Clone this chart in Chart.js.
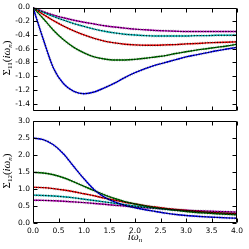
<!DOCTYPE html>
<html><head><meta charset="utf-8">
<script src="https://cdn.jsdelivr.net/npm/chart.js@4"></script>
<style>
html,body{margin:0;padding:0;background:#fff;width:249px;height:249px;overflow:hidden}
canvas{position:absolute;left:0}
#c1{top:0}
#c2{top:113px}
</style></head><body>
<canvas id="c1" width="249" height="118"></canvas>
<canvas id="c2" width="249" height="136"></canvas>
<script>
// ---- data ----
const omega = [0,0.2,0.4,0.6,0.8,1.0,1.2,1.4,1.6,1.8,2.0,2.2,2.4,2.6,2.8,3.0,3.2,3.4,3.6,3.8,4.0];
const s11Blue    = [0,-0.46,-0.88,-1.11,-1.22,-1.255,-1.23,-1.17,-1.10,-1.02,-0.95,-0.89,-0.84,-0.80,-0.76,-0.72,-0.69,-0.66,-0.63,-0.605,-0.58];
const s11Green   = [0,-0.16,-0.33,-0.47,-0.58,-0.66,-0.72,-0.75,-0.765,-0.765,-0.755,-0.74,-0.72,-0.70,-0.67,-0.645,-0.62,-0.60,-0.58,-0.56,-0.535];
const s11Red     = [0,-0.10,-0.19,-0.27,-0.34,-0.40,-0.45,-0.49,-0.515,-0.535,-0.545,-0.55,-0.55,-0.545,-0.54,-0.53,-0.525,-0.515,-0.51,-0.505,-0.50];
const s11Cyan    = [0,-0.07,-0.13,-0.185,-0.235,-0.275,-0.315,-0.345,-0.37,-0.39,-0.40,-0.41,-0.415,-0.415,-0.415,-0.415,-0.41,-0.41,-0.405,-0.405,-0.40];
const s11Magenta = [0,-0.06,-0.11,-0.15,-0.185,-0.215,-0.24,-0.265,-0.285,-0.30,-0.315,-0.325,-0.335,-0.34,-0.345,-0.35,-0.35,-0.35,-0.35,-0.35,-0.35];

const s12Blue    = [2.50,2.45,2.30,2.03,1.66,1.30,0.98,0.76,0.62,0.52,0.45,0.39,0.34,0.29,0.25,0.22,0.20,0.18,0.165,0.15,0.14];
const s12Green   = [1.49,1.47,1.42,1.33,1.21,1.08,0.95,0.83,0.72,0.63,0.56,0.50,0.45,0.41,0.37,0.34,0.31,0.29,0.27,0.255,0.24];
const s12Red     = [1.05,1.04,1.01,0.97,0.92,0.86,0.80,0.73,0.67,0.61,0.56,0.51,0.47,0.43,0.40,0.37,0.345,0.32,0.30,0.285,0.27];
const s12Cyan    = [0.82,0.81,0.795,0.77,0.74,0.70,0.66,0.62,0.58,0.54,0.50,0.465,0.435,0.405,0.38,0.355,0.335,0.315,0.30,0.285,0.27];
const s12Magenta = [0.67,0.665,0.655,0.64,0.62,0.60,0.575,0.55,0.52,0.50,0.47,0.45,0.43,0.41,0.39,0.375,0.36,0.35,0.34,0.33,0.32];

const xTicks = [0.0,0.5,1.0,1.5,2.0,2.5,3.0,3.5,4.0];
const yTicksTop = [0.0,-0.2,-0.4,-0.6,-0.8,-1.0,-1.2,-1.4];
const yTicksBottom = [0.0,0.5,1.0,1.5,2.0,2.5,3.0];

const seriesColors = ['#0000ff','#008000','#ff0000','#00bfbf','#bf00bf'];

// ---- helpers ----
function pts(ys){ return omega.map((x,i)=>({x:x,y:ys[i]})); }
function makeDatasets(list){
  const ds=[];
  list.forEach((ys,i)=>{
    const base={data:pts(ys),pointRadius:0,cubicInterpolationMode:'monotone',fill:false};
    ds.push(Object.assign({},base,{borderColor:'rgba(160,160,160,0.6)',borderWidth:3,borderDash:[1,1.5],order:20+i}));
    ds.push(Object.assign({},base,{borderColor:seriesColors[i],borderWidth:1.4,order:10+i}));
    ds.push(Object.assign({},base,{borderColor:'#000',borderWidth:0.9,borderDash:[1.5,1.5],order:i}));
  });
  return ds;
}

const framePlugin={
  id:'frame',
  afterDatasetsDraw(chart){
    const {ctx,chartArea:a,scales:{x,y}}=chart;
    ctx.save();
    ctx.strokeStyle='#000';ctx.lineWidth=1;
    const L=Math.round(a.left)+0.5,R=Math.round(a.right)-0.5,T=Math.round(a.top)+0.5,B=Math.round(a.bottom)-0.5;
    ctx.beginPath();
    ctx.rect(L,T,R-L,B-T);
    xTicks.forEach(v=>{const p=Math.round(x.getPixelForValue(v))+0.5;ctx.moveTo(p,T);ctx.lineTo(p,T+4);ctx.moveTo(p,B);ctx.lineTo(p,B-4);});
    y.ticks.forEach(t=>{const p=Math.round(y.getPixelForValue(t.value))+0.5;ctx.moveTo(L,p);ctx.lineTo(L+4,p);ctx.moveTo(R,p);ctx.lineTo(R-4,p);});
    ctx.stroke();
    ctx.restore();
  }
};

function drawRuns(ctx,runs,cx,cy,rot){
  ctx.save();
  ctx.translate(cx,cy);
  if(rot) ctx.rotate(rot);
  let w=0;
  runs.forEach(r=>{ctx.font=r.f;w+=ctx.measureText(r.t).width;});
  let x=-w/2;
  ctx.fillStyle='#000';ctx.textBaseline='middle';ctx.textAlign='left';
  runs.forEach(r=>{ctx.font=r.f;ctx.fillText(r.t,x,r.dy||0);x+=ctx.measureText(r.t).width;});
  ctx.restore();
}
const FM='11px "Liberation Serif"', FI='italic 11px "Liberation Serif"', FS='7px "Liberation Serif"', FSI='italic 7px "Liberation Serif"';
function sigmaRuns(sub){return [{t:'Σ',f:FM},{t:sub,f:FS,dy:3},{t:'(',f:FM},{t:'iω',f:FI},{t:'n',f:FSI,dy:3},{t:')',f:FM}];}

function titlePlugin(sub,withX){
  return {id:'titles'+sub,afterDraw(chart){
    const {ctx,chartArea:a}=chart;
    drawRuns(ctx,sigmaRuns(sub),7.5,(a.top+a.bottom)/2-1,-Math.PI/2);
    if(withX){drawRuns(ctx,[{t:'iω',f:FI},{t:'n',f:FSI,dy:3}],(a.left+a.right)/2,124,0);}
  }};
}

function makeChart(id,lists,ymin,ymax,step,yTickVals,showX,pad,xh,sub){
  return new Chart(document.getElementById(id),{
    type:'line',
    data:{datasets:makeDatasets(lists)},
    options:{
      responsive:false,animation:false,
      layout:{padding:pad},
      plugins:{legend:{display:false},tooltip:{enabled:false}},
      scales:{
        x:{type:'linear',min:0,max:4,
           grid:{display:false,drawTicks:false},border:{display:false},
           ticks:{display:showX,stepSize:0.5,padding:4,color:'#000',font:{family:'DejaVu Sans',size:7.5},
                  callback:v=>v.toFixed(1)},
           afterFit:s=>{s.height=xh;}},
        y:{min:ymin,max:ymax,
           grid:{display:false,drawTicks:false},border:{display:false},
           ticks:{stepSize:step,includeBounds:false,padding:3,color:'#000',font:{family:'DejaVu Sans',size:7.5},
                  callback:v=>(yTickVals.some(t=>Math.abs(t-v)<1e-6)?v.toFixed(1):'')},
           afterFit:s=>{s.width=33;}}
      }
    },
    plugins:[framePlugin,titlePlugin(sub,showX)]
  });
}

makeChart('c1',[s11Blue,s11Green,s11Red,s11Cyan,s11Magenta],-1.5,0,0.2,yTicksTop,false,{left:0,right:12,top:7,bottom:7},0,'11');
makeChart('c2',[s12Blue,s12Green,s12Red,s12Cyan,s12Magenta],0,3,0.5,yTicksBottom,true,{left:0,right:12,top:8,bottom:0},26,'12');
</script>
</body></html>
